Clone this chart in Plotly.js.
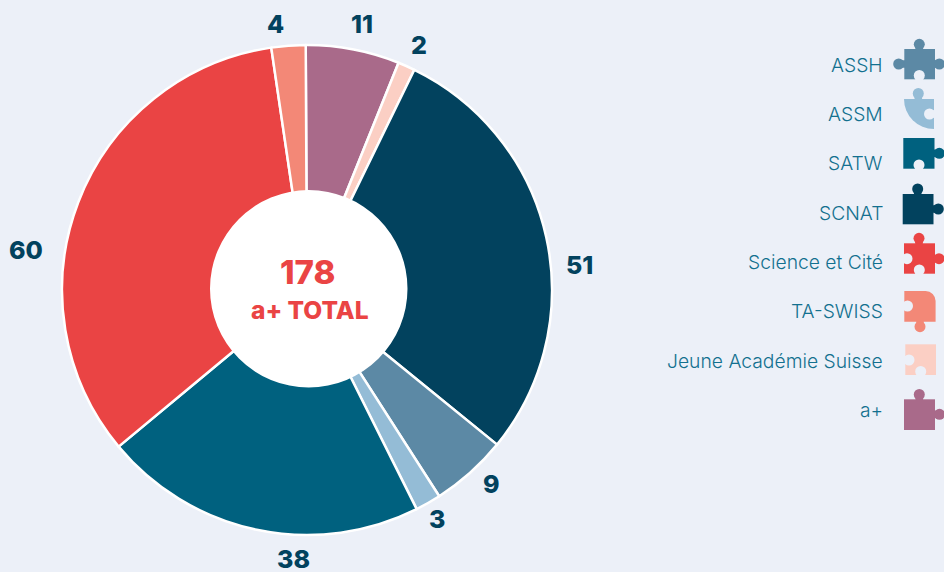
<!DOCTYPE html>
<html><head><meta charset="utf-8">
<script src="https://cdn.plot.ly/plotly-3.0.1.min.js"></script>
<style>html,body{margin:0;padding:0;background:#ecf0f8}</style></head>
<body><div id="chart" style="width:944px;height:572px"></div>
<script>
// Data, clockwise from 12 o'clock
const sliceNames  = ["a+","Jeune Académie Suisse","SCNAT","ASSH","ASSM","SATW","Science et Cité","TA-SWISS"];
const sliceValues = [11,2,51,9,3,38,60,4];
const sliceColors = ["#a96a8a","#fbcfc4","#02425e","#5c89a5","#94bcd6","#00617f","#ea4444","#f38877"];
const centerTotal = "178";
const centerLabel = "a+ TOTAL";
const legendOrder = ["ASSH","ASSM","SATW","SCNAT","Science et Cité","TA-SWISS","Jeune Académie Suisse","a+"];

// Layout helpers
const W=944,H=572,BG="#ecf0f8";
const px=x=>x/W, py=y=>1-y/H;
const labelAt=[[362,24],[419,45],[579,265],[491,484],[437,519],[293,559],[26,250],[275,24]];
const legendY=[65,114,163,213,262,311,361,410];
const icons=[
 {c:[919.6,64],b:"M904.3 49H935V79.3H904.3Z",k:[[919.3,44.3],[898.7,64],[939.3,64]],n:[[919.3,75.5]]},
 {c:[919,114],b:"M904 99H934V129A30 30 0 0 1 904 99Z",k:[[918.3,93.5]],n:[[929.5,114]]},
 {c:[919,153.3],b:"M903.3 138H934.5V168.7H903.3Z",k:[[939.3,153.3]],n:[[919,165]]},
 {c:[918,209],b:"M902.7 194H933.5V224.3H902.7Z",k:[[917.7,189],[938.3,209]],n:[]},
 {c:[919.5,258.5],b:"M904 243.3H935V273.7H904Z",k:[[919,238.3],[939,258.7]],n:[[907,258.7],[919.3,270]]},
 {c:[920,306],b:"M904.3 291H925.6A10 10 0 0 1 935.6 301V321.7H904.3Z",k:[[920,326.7]],n:[[907.5,306]]},
 {c:[920.7,360],b:"M905.3 344.3H936V375H905.3Z",k:[],n:[[909,360],[920.7,371.5]]},
 {c:[919.5,414.5],b:"M904 399.3H935V430H904Z",k:[[919.3,394.5],[939.5,414.3]],n:[]}
];
const legendColor=n=>sliceColors[sliceNames.indexOf(n)];
const BOX_X=890,BOX_W=54,BOX_H=64;
function neck(p,ctr,dir,color){
  const dx=ctr[0]-p[0],dy=ctr[1]-p[1],L=8;
  const horiz=Math.abs(dx)>Math.abs(dy);
  const ex=p[0]+(horiz?Math.sign(dx)*dir*L:0), ey=p[1]+(horiz?0:Math.sign(dy)*dir*L);
  return `<line x1="${p[0]}" y1="${p[1]}" x2="${ex}" y2="${ey}" stroke="${color}" stroke-width="7.5"/>`;
}
function iconSvg(ic,c,top){
  const cs=(a,f,r)=>a.map(p=>`<circle cx="${p[0]}" cy="${p[1]}" r="${r}" fill="${f}"/>`).join("");
  return "data:image/svg+xml;charset=utf-8,"+encodeURIComponent(
    `<svg xmlns="http://www.w3.org/2000/svg" width="${BOX_W}" height="${BOX_H}" viewBox="${BOX_X} ${top} ${BOX_W} ${BOX_H}">`+
    ic.k.map(p=>neck(p,ic.c,1,c)).join("")+
    `<path d="${ic.b}" fill="${c}"/>${cs(ic.k,c,5.5)}`+
    ic.n.map(p=>neck(p,ic.c,-1,BG)).join("")+cs(ic.n,BG,5.5)+`</svg>`);
}
const FONT="Inter, sans-serif";
const ann=[];
sliceValues.forEach((v,i)=>ann.push({xref:"paper",yref:"paper",x:px(labelAt[i][0]),y:py(labelAt[i][1]),
  xanchor:"center",yanchor:"middle",showarrow:false,text:String(v),
  font:{family:FONT,size:25,weight:800,color:"#02425e"}}));
legendOrder.forEach((n,i)=>ann.push({xref:"paper",yref:"paper",x:px(884.5),y:py(legendY[i]),
  xanchor:"right",yanchor:"middle",showarrow:false,text:n,
  font:{family:FONT,size:19.3,weight:300,color:"#13708f"}}));
ann.push({xref:"paper",yref:"paper",x:px(307),y:py(272),xanchor:"center",yanchor:"middle",showarrow:false,
  text:centerTotal,font:{family:FONT,size:33,weight:800,color:"#ea4444"}});
ann.push({xref:"paper",yref:"paper",x:px(310),y:py(310),xanchor:"center",yanchor:"middle",showarrow:false,
  text:centerLabel,font:{family:FONT,size:24.5,weight:800,color:"#ea4444"}});

Plotly.newPlot("chart",[{
  type:"pie",labels:sliceNames,values:sliceValues,sort:false,direction:"clockwise",rotation:-0.3,
  hole:0.37,textinfo:"none",hoverinfo:"label+value",
  marker:{colors:sliceColors,line:{color:"#ffffff",width:2.5}},
  domain:{x:[px(62),px(552)],y:[py(535),py(45)]}
}],{
  width:W,height:H,margin:{l:0,r:0,t:0,b:0},paper_bgcolor:BG,plot_bgcolor:BG,showlegend:false,
  annotations:ann,
  shapes:[{type:"circle",xref:"paper",yref:"paper",x0:px(210),x1:px(407.5),y0:py(387.5),y1:py(190),
    fillcolor:"#ffffff",line:{width:0},layer:"above"}],
  images:legendOrder.map((n,i)=>{const top=legendY[i]-32;return {source:iconSvg(icons[i],legendColor(n),top),xref:"paper",yref:"paper",
    x:px(BOX_X),y:py(top),sizex:BOX_W/W,sizey:BOX_H/H,sizing:"stretch",xanchor:"left",yanchor:"top",layer:"above"};})
},{displayModeBar:false,staticPlot:true});
</script></body></html>
